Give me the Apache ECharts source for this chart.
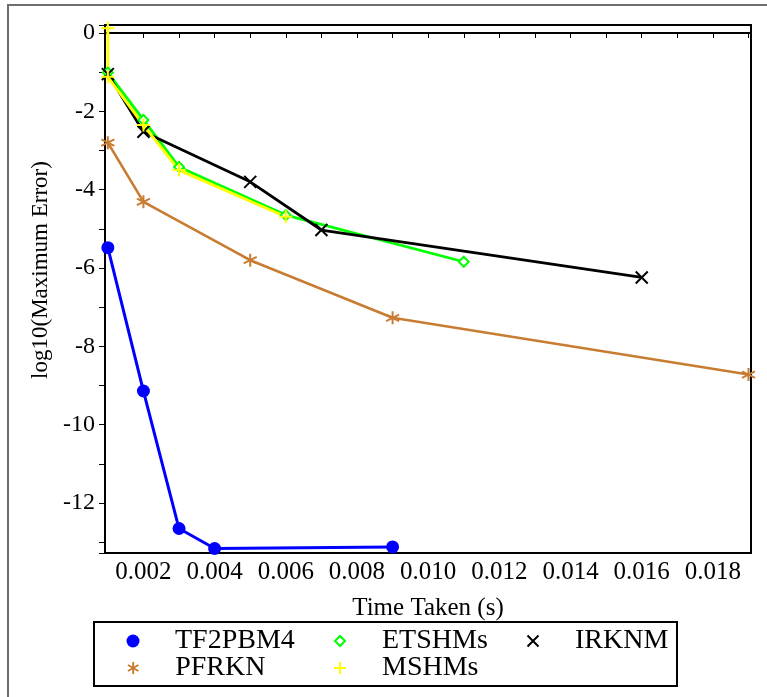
<!DOCTYPE html>
<html>
<head>
<meta charset="utf-8">
<script src="https://cdn.jsdelivr.net/npm/echarts@6/dist/echarts.min.js"></script>
<style>
html,body{margin:0;padding:0;background:#fff;}
#chart{width:767px;height:697px;}
</style>
</head>
<body>
<div id="chart"></div>
<script>
// ---- data ----
const seriesNames = ['TF2PBM4', 'ETSHMs', 'IRKNM', 'PFRKN', 'MSHMs'];

const tf2pbm4X = [0.001, 0.002, 0.003, 0.004, 0.009];
const tf2pbm4Y = [-5.48, -9.14, -12.65, -13.16, -13.12];

const etshmsX = [0.001, 0.002, 0.003, 0.006, 0.011];
const etshmsY = [-1.01, -2.22, -3.42, -4.65, -5.84];

const irknmX = [0.001, 0.002, 0.005, 0.007, 0.016];
const irknmY = [-1.05, -2.52, -3.80, -5.03, -6.24];

const pfrknX = [0.001, 0.002, 0.005, 0.009, 0.019];
const pfrknY = [-2.80, -4.31, -5.80, -7.27, -8.72];

const mshmsX = [0.001, 0.001, 0.002, 0.003, 0.006];
const mshmsY = [0.12, -1.12, -2.35, -3.50, -4.69];

const xTitle = 'Time Taken (s)';
const yTitle = 'log10(Maximum Error)';

// ---- helpers ----
function pairs(xs, ys) { return xs.map((x, i) => [x, ys[i]]); }

const FONT = "Liberation Serif";
const COLORS = {
  TF2PBM4: '#0000ff',
  ETSHMs: '#00ff00',
  IRKNM: '#000000',
  PFRKN: '#c87c32',
  MSHMs: '#ffff00'
};
const PATH_X = 'path://M0,0L10,10M10,0L0,10';
const PATH_PLUS = 'path://M5,0L5,10M0,5L10,5';
const PATH_STAR = 'path://M5,0L5,10M0.67,2.5L9.33,7.5M0.67,7.5L9.33,2.5';
const PATH_DIAMOND = 'path://M5,0L10,5L5,10L0,5Z';

const chart = echarts.init(document.getElementById('chart'), null, {renderer: 'canvas'});

function strokeSeries(name, data, symbol, size, lw, fill) {
  return {
    name: name, type: 'line', data: data,
    symbol: symbol, symbolSize: size,
    lineStyle: {color: COLORS[name], width: lw},
    itemStyle: {color: fill || 'rgba(0,0,0,0)', borderColor: COLORS[name], borderWidth: 2},
    emphasis: {disabled: true}
  };
}

// cx: icon centre x, cy: row centre y, s: icon size
function legendItem(name, icon, cx, cy, s, itemStyle) {
  return {
    data: [{name: name, icon: icon}],
    left: cx - s / 2, top: cy - 14,
    itemWidth: 74, itemHeight: s,
    itemGap: 0, padding: 0,
    selectedMode: false,
    symbolKeepAspect: true,
    itemStyle: itemStyle,
    textStyle: {fontFamily: FONT, fontSize: 28, color: '#000'}
  };
}

const option = {
  backgroundColor: '#fff',
  animation: false,
  textStyle: {fontFamily: FONT},
  grid: {left: 105, right: 16, top: 25, bottom: 144, show: true, borderColor: '#000', borderWidth: 2, containLabel: false},
  xAxis: {
    type: 'value', min: 0.00092, max: 0.01907, splitNumber: 18,
    name: xTitle, nameLocation: 'middle', nameGap: 43,
    nameTextStyle: {fontFamily: FONT, fontSize: 25, color: '#000'},
    axisLine: {lineStyle: {color: '#000', width: 2}},
    axisTick: {length: 5, lineStyle: {color: '#000', width: 1}},
    splitLine: {show: false},
    axisLabel: {
      fontFamily: FONT, fontSize: 25, color: '#000', margin: 7,
      formatter: function (v) {
        const k = Math.round(v * 1000);
        if (Math.abs(v * 1000 - k) > 1e-6 || k % 2 !== 0) return '';
        return (k / 1000).toFixed(3);
      }
    }
  },
  yAxis: {
    type: 'value', min: -13.275, max: 0.204, splitNumber: 14,
    name: yTitle, nameLocation: 'middle', nameGap: 53,
    nameTextStyle: {fontFamily: FONT, fontSize: 23, color: '#000', padding: [0, 0, 0, 38]},
    axisLine: {lineStyle: {color: '#000', width: 2}},
    axisTick: {length: 6, lineStyle: {color: '#000', width: 1}},
    splitLine: {show: false},
    axisLabel: {
      fontFamily: FONT, fontSize: 24, color: '#000', margin: 10,
      formatter: function (v) {
        const k = Math.round(v);
        if (Math.abs(v - k) > 1e-6 || k % 2 !== 0) return '';
        return String(k);
      }
    }
  },
  legend: [
    legendItem('TF2PBM4', 'circle', 133, 641, 13, {color: COLORS.TF2PBM4, borderWidth: 0}),
    legendItem('PFRKN', PATH_STAR, 133, 668, 12, {color: 'rgba(0,0,0,0)', borderColor: COLORS.PFRKN, borderWidth: 2}),
    legendItem('ETSHMs', PATH_DIAMOND, 339, 641, 10, {color: '#fff', borderColor: COLORS.ETSHMs, borderWidth: 2}),
    legendItem('MSHMs', PATH_PLUS, 339, 668, 12, {color: 'rgba(0,0,0,0)', borderColor: COLORS.MSHMs, borderWidth: 2}),
    legendItem('IRKNM', PATH_X, 532, 641, 11, {color: 'rgba(0,0,0,0)', borderColor: COLORS.IRKNM, borderWidth: 2})
  ],
  graphic: [
    {type: 'rect', shape: {x: 8, y: 5, width: 900, height: 900}, style: {fill: 'none', stroke: '#6e6e6e', lineWidth: 2}, silent: true, z: -10},
    {type: 'rect', shape: {x: 94, y: 622, width: 583, height: 64}, style: {fill: 'none', stroke: '#000', lineWidth: 2}, silent: true}
  ],
  series: [
    {
      name: 'TF2PBM4', type: 'line', data: pairs(tf2pbm4X, tf2pbm4Y),
      symbol: 'circle', symbolSize: 13,
      lineStyle: {color: COLORS.TF2PBM4, width: 3},
      itemStyle: {color: COLORS.TF2PBM4},
      emphasis: {disabled: true}
    },
    strokeSeries('ETSHMs', pairs(etshmsX, etshmsY), PATH_DIAMOND, 10, 2.8, '#fff'),
    strokeSeries('IRKNM', pairs(irknmX, irknmY), PATH_X, 12, 2.8),
    strokeSeries('PFRKN', pairs(pfrknX, pfrknY), PATH_STAR, 13, 2.6),
    strokeSeries('MSHMs', pairs(mshmsX, mshmsY), PATH_PLUS, 13, 2.8)
  ]
};
chart.setOption(option);
</script>
</body>
</html>
